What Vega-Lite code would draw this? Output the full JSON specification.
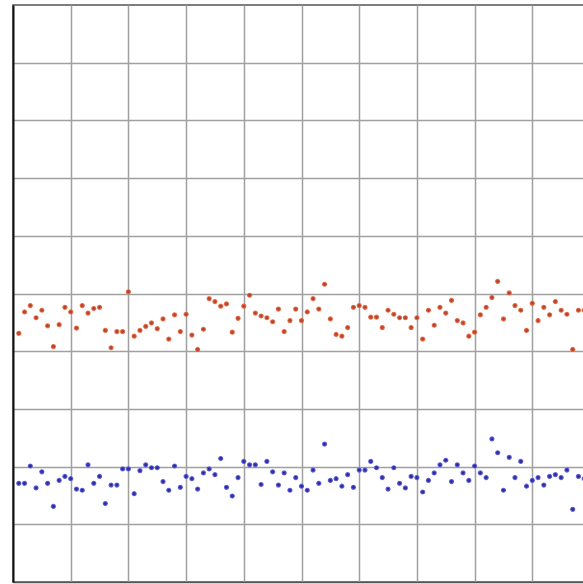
{
  "$schema": "https://vega.github.io/schema/vega-lite/v6.json",
  "width": 571,
  "height": 577,
  "padding": {"left": 13, "top": 5, "right": 0, "bottom": 2},
  "background": "white",
  "config": {"view": {"stroke": "#555555", "strokeWidth": 1.5}},
  "data": {"values": [
    {"x":1,"a":4.31,"b":1.71},{"x":2,"a":4.68,"b":1.71},{"x":3,"a":4.79,"b":2.01},{"x":4,"a":4.58,"b":1.63},{"x":5,"a":4.71,"b":1.91},
    {"x":6,"a":4.44,"b":1.71},{"x":7,"a":4.08,"b":1.31},{"x":8,"a":4.46,"b":1.76},{"x":9,"a":4.76,"b":1.83},{"x":10,"a":4.68,"b":1.79},
    {"x":11,"a":4.40,"b":1.61},{"x":12,"a":4.79,"b":1.59},{"x":13,"a":4.66,"b":2.03},{"x":14,"a":4.74,"b":1.71},{"x":15,"a":4.76,"b":1.83},
    {"x":16,"a":4.36,"b":1.36},{"x":17,"a":4.06,"b":1.68},{"x":18,"a":4.34,"b":1.68},{"x":19,"a":4.34,"b":1.96},{"x":20,"a":5.03,"b":1.96},
    {"x":21,"a":4.26,"b":1.53},{"x":22,"a":4.36,"b":1.93},{"x":23,"a":4.43,"b":2.03},{"x":24,"a":4.49,"b":1.98},{"x":25,"a":4.39,"b":1.98},
    {"x":26,"a":4.56,"b":1.74},{"x":27,"a":4.21,"b":1.59},{"x":28,"a":4.63,"b":2.01},{"x":29,"a":4.34,"b":1.64},{"x":30,"a":4.64,"b":1.83},
    {"x":31,"a":4.28,"b":1.79},{"x":32,"a":4.03,"b":1.61},{"x":33,"a":4.38,"b":1.89},{"x":34,"a":4.91,"b":1.96},{"x":35,"a":4.86,"b":1.86},
    {"x":36,"a":4.78,"b":2.14},{"x":37,"a":4.82,"b":1.64},{"x":38,"a":4.33,"b":1.49},{"x":39,"a":4.57,"b":1.81},{"x":40,"a":4.78,"b":2.09},
    {"x":41,"a":4.97,"b":2.03},{"x":42,"a":4.66,"b":2.03},{"x":43,"a":4.61,"b":1.69},{"x":44,"a":4.58,"b":2.09},{"x":45,"a":4.51,"b":1.91},
    {"x":46,"a":4.73,"b":1.68},{"x":47,"a":4.34,"b":1.89},{"x":48,"a":4.53,"b":1.59},{"x":49,"a":4.73,"b":1.81},{"x":50,"a":4.53,"b":1.66},
    {"x":51,"a":4.68,"b":1.59},{"x":52,"a":4.91,"b":1.94},{"x":53,"a":4.73,"b":1.71},{"x":54,"a":5.16,"b":2.39},{"x":55,"a":4.56,"b":1.76},
    {"x":56,"a":4.29,"b":1.79},{"x":57,"a":4.26,"b":1.66},{"x":58,"a":4.41,"b":1.86},{"x":59,"a":4.76,"b":1.64},{"x":60,"a":4.79,"b":1.94},
    {"x":61,"a":4.76,"b":1.94},{"x":62,"a":4.59,"b":2.09},{"x":63,"a":4.59,"b":1.98},{"x":64,"a":4.41,"b":1.81},{"x":65,"a":4.71,"b":1.61},
    {"x":66,"a":4.64,"b":1.98},{"x":67,"a":4.58,"b":1.71},{"x":68,"a":4.58,"b":1.63},{"x":69,"a":4.41,"b":1.83},{"x":70,"a":4.58,"b":1.81},
    {"x":71,"a":4.21,"b":1.56},{"x":72,"a":4.71,"b":1.76},{"x":73,"a":4.45,"b":1.89},{"x":74,"a":4.76,"b":2.03},{"x":75,"a":4.66,"b":2.11},
    {"x":76,"a":4.88,"b":1.74},{"x":77,"a":4.53,"b":2.03},{"x":78,"a":4.49,"b":1.89},{"x":79,"a":4.26,"b":1.76},{"x":80,"a":4.33,"b":2.01},
    {"x":81,"a":4.63,"b":1.89},{"x":82,"a":4.76,"b":1.81},{"x":83,"a":4.93,"b":2.48},{"x":84,"a":5.21,"b":2.24},{"x":85,"a":4.56,"b":1.59},
    {"x":86,"a":5.01,"b":2.16},{"x":87,"a":4.79,"b":1.81},{"x":88,"a":4.71,"b":2.09},{"x":89,"a":4.36,"b":1.66},{"x":90,"a":4.83,"b":1.76},
    {"x":91,"a":4.53,"b":1.81},{"x":92,"a":4.76,"b":1.68},{"x":93,"a":4.63,"b":1.83},{"x":94,"a":4.86,"b":1.86},{"x":95,"a":4.71,"b":1.81},
    {"x":96,"a":4.64,"b":1.94},{"x":97,"a":4.03,"b":1.26},{"x":98,"a":4.71,"b":1.83},{"x":99,"a":4.71,"b":1.79}
  ]},
  "transform": [{"fold": ["a", "b"], "as": ["series", "value"]}],
  "mark": {"type": "point", "shape": "circle", "filled": true, "size": 16, "opacity": 1, "strokeWidth": 1.2, "strokeOpacity": 0.85},
  "encoding": {
    "x": {
      "field": "x", "type": "quantitative",
      "scale": {"domain": [0, 98.96], "nice": false, "zero": false},
      "axis": {"values": [10,20,30,40,50,60,70,80,90], "labels": false, "ticks": false, "title": null,
               "domainColor": "#555555", "domainWidth": 1.5,
               "gridColor": "#a0a0a0", "gridWidth": 1.5, "gridOpacity": 1, "grid": true}
    },
    "y": {
      "field": "value", "type": "quantitative",
      "scale": {"domain": [0, 10], "nice": false},
      "axis": {"values": [1,2,3,4,5,6,7,8,9], "labels": false, "ticks": false, "title": null,
               "domainColor": "#111111", "domainWidth": 2,
               "gridColor": "#a0a0a0", "gridWidth": 1.5, "gridOpacity": 1, "grid": true}
    },
    "fill": {
      "field": "series", "type": "nominal",
      "scale": {"domain": ["a", "b"], "range": ["#a8483a", "#2e2e90"]},
      "legend": null
    },
    "stroke": {
      "field": "series", "type": "nominal",
      "scale": {"domain": ["a", "b"], "range": ["#ec5a2e", "#5050e0"]},
      "legend": null
    }
  }
}
